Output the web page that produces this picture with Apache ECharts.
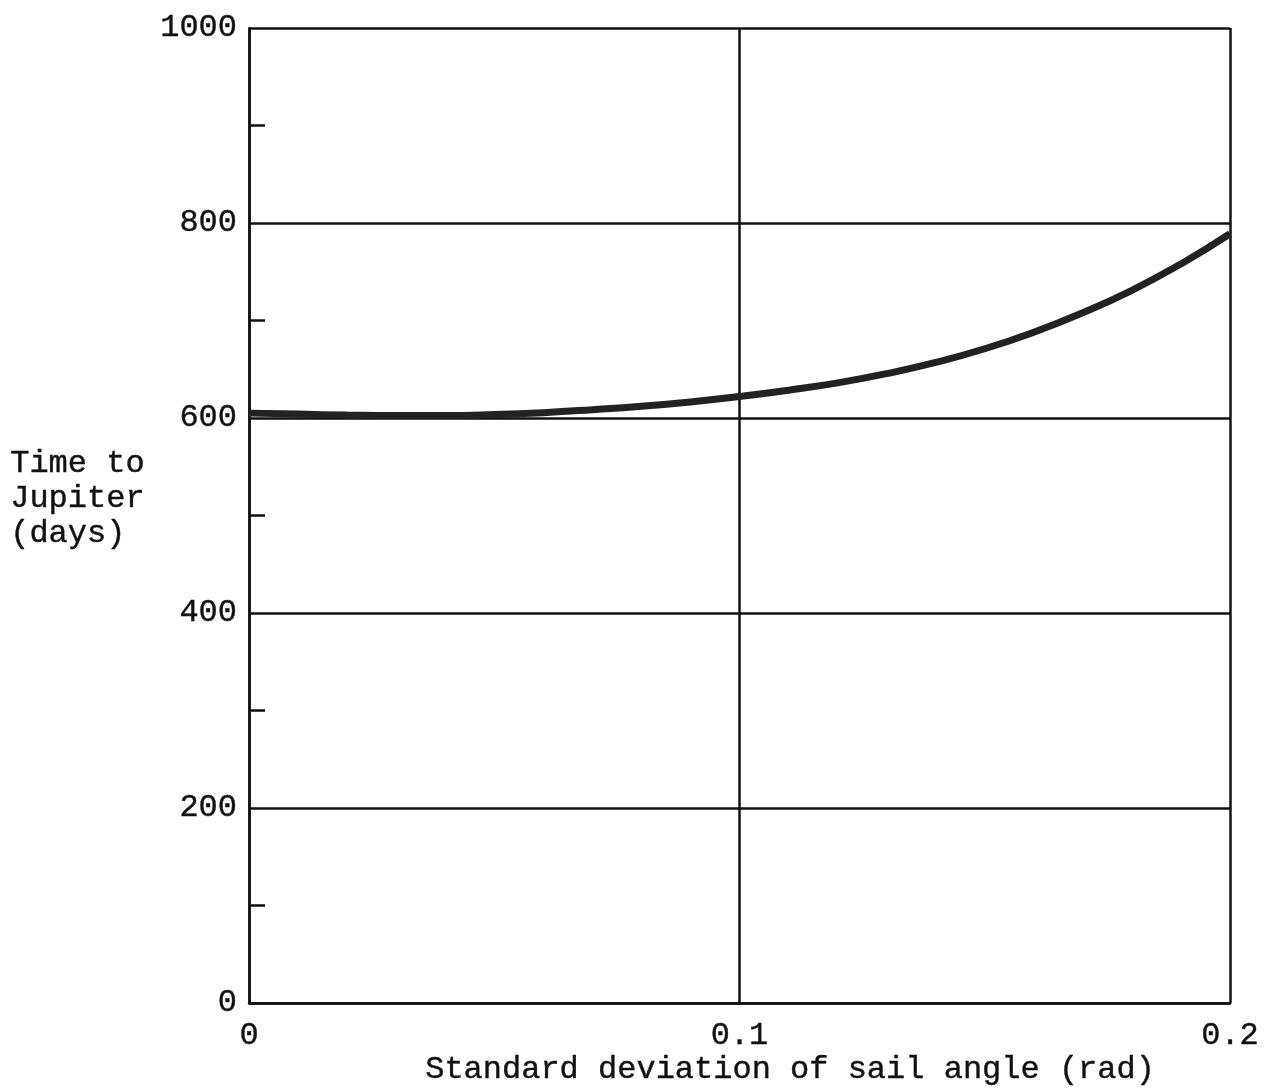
<!DOCTYPE html>
<html>
<head>
<meta charset="utf-8">
<script src="https://cdn.jsdelivr.net/npm/echarts@6/dist/echarts.min.js"></script>
<style>
html,body{margin:0;padding:0;background:#fff;}
#c{width:1277px;height:1091px;}
</style>
</head>
<body>
<div id="c"></div>
<script>
const sigma = [0, 0.01, 0.02, 0.03, 0.04, 0.05, 0.06, 0.07, 0.08, 0.09, 0.10, 0.11, 0.12, 0.13, 0.14, 0.15, 0.16, 0.17, 0.18, 0.19, 0.20];
const days  = [605, 604, 603, 602.5, 602.5, 603.5, 605.5, 608.5, 612, 616.5, 622, 628.5, 636, 645.5, 657, 671, 688, 708, 731, 758, 789];
const xTicks = [0, 0.1, 0.2];
const yTicks = [0, 200, 400, 600, 800, 1000];
const yTitle = ['Time to', 'Jupiter', '(days)'];
const xTitle = 'Standard deviation of sail angle (rad)';

const FONT = '"Liberation Mono", "DejaVu Sans Mono", monospace';
const ink = '#111';
const FS = 32;
const chart = echarts.init(document.getElementById('c'), null, {renderer: 'canvas'});
chart.setOption({
  animation: false,
  backgroundColor: '#fff',
  grid: {left: 249, right: 47, top: 28, bottom: 88},
  xAxis: {
    type: 'value', min: xTicks[0], max: xTicks[xTicks.length - 1], interval: 0.1,
    axisLine: {show: true, lineStyle: {color: ink, width: 2.5}},
    axisTick: {show: false},
    splitLine: {show: true, lineStyle: {color: ink, width: 2.5}},
    axisLabel: {color: ink, fontFamily: FONT, fontSize: FS, margin: 17,
      textBorderColor: ink, textBorderWidth: 0.4,
      formatter: v => (Math.abs(v) < 1e-9 ? '0' : v.toFixed(1))}
  },
  yAxis: {
    type: 'value', min: yTicks[0], max: yTicks[yTicks.length - 1], interval: 200,
    axisLine: {show: true, lineStyle: {color: ink, width: 2.5}},
    axisTick: {show: false, inside: true},
    minorTick: {show: true, splitNumber: 2, length: 16, lineStyle: {color: ink, width: 2.5}},
    splitLine: {show: true, lineStyle: {color: ink, width: 2.5}},
    axisLabel: {color: ink, fontFamily: FONT, fontSize: FS, margin: 12,
      textBorderColor: ink, textBorderWidth: 0.4,
      formatter: v => String(v)}
  },
  graphic: [
    {type: 'text', left: 10, top: 446, style: {text: yTitle.join('\n'), font: FS + 'px ' + FONT, fill: ink, lineHeight: 35, stroke: ink, lineWidth: 0.4}},
    {type: 'text', left: 425, top: 1053, style: {text: xTitle, font: FS + 'px ' + FONT, fill: ink, stroke: ink, lineWidth: 0.4}}
  ],
  series: [{
    type: 'line', smooth: true, symbol: 'none',
    data: sigma.map((s, i) => [s, days[i]]),
    lineStyle: {color: '#222', width: 7},
    z: 5
  }]
});
</script>
</body>
</html>
